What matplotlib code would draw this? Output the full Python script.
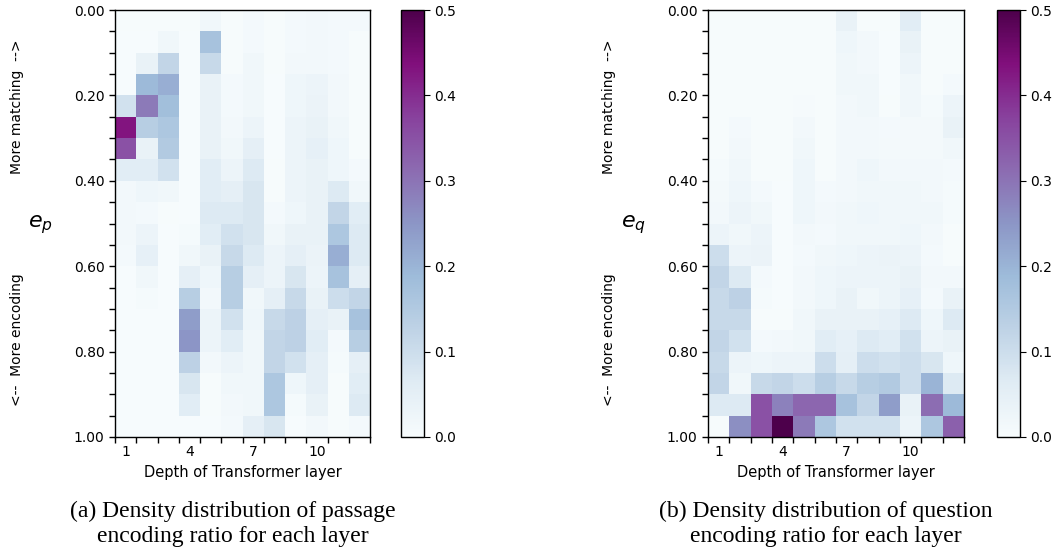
import numpy as np
import matplotlib
matplotlib.use("Agg")
import matplotlib.pyplot as plt

plt.rcParams["font.family"] = ["DejaVu Sans"]
plt.rcParams["mathtext.fontset"] = "dejavusans"

layers = list(range(1, 13))
layer_labels = [1, 4, 7, 10]
ratio_labels = ["0.00", "0.20", "0.40", "0.60", "0.80", "1.00"]

# passage encoding ratio density (rows: e_p bins 0.00-0.05 ... 0.95-1.00; cols: layers 1..12)
ep_density = [
    [0.005, 0.005, 0.005, 0.005, 0.02, 0.005, 0.01, 0.005, 0.01, 0.015, 0.01, 0.01],
    [0.003, 0.003, 0.02, 0.003, 0.17, 0.005, 0.01, 0.005, 0.01, 0.015, 0.01, 0.005],
    [0.003, 0.04, 0.12, 0.003, 0.11, 0.005, 0.02, 0.005, 0.015, 0.015, 0.01, 0.005],
    [0.003, 0.19, 0.21, 0.003, 0.04, 0.01, 0.02, 0.003, 0.025, 0.03, 0.015, 0.005],
    [0.09, 0.29, 0.18, 0.003, 0.04, 0.01, 0.02, 0.003, 0.025, 0.035, 0.015, 0.005],
    [0.43, 0.14, 0.16, 0.003, 0.04, 0.015, 0.03, 0.003, 0.03, 0.04, 0.02, 0.005],
    [0.35, 0.04, 0.15, 0.003, 0.04, 0.02, 0.05, 0.003, 0.03, 0.045, 0.025, 0.005],
    [0.06, 0.06, 0.09, 0.003, 0.06, 0.03, 0.07, 0.005, 0.03, 0.04, 0.025, 0.01],
    [0.015, 0.025, 0.02, 0.003, 0.06, 0.05, 0.08, 0.005, 0.03, 0.04, 0.07, 0.02],
    [0.015, 0.01, 0.005, 0.003, 0.07, 0.07, 0.08, 0.01, 0.025, 0.04, 0.12, 0.06],
    [0.015, 0.03, 0.003, 0.008, 0.06, 0.09, 0.08, 0.02, 0.04, 0.04, 0.16, 0.07],
    [0.01, 0.045, 0.003, 0.02, 0.04, 0.11, 0.07, 0.03, 0.05, 0.035, 0.21, 0.07],
    [0.003, 0.02, 0.003, 0.05, 0.025, 0.14, 0.05, 0.03, 0.08, 0.03, 0.17, 0.05],
    [0.003, 0.008, 0.003, 0.14, 0.015, 0.14, 0.02, 0.05, 0.11, 0.04, 0.10, 0.12],
    [0.003, 0.003, 0.003, 0.24, 0.03, 0.09, 0.025, 0.11, 0.13, 0.05, 0.04, 0.17],
    [0.003, 0.003, 0.003, 0.25, 0.03, 0.06, 0.02, 0.12, 0.13, 0.06, 0.01, 0.14],
    [0.003, 0.003, 0.003, 0.13, 0.015, 0.03, 0.02, 0.12, 0.09, 0.05, 0.008, 0.05],
    [0.003, 0.003, 0.003, 0.08, 0.005, 0.02, 0.02, 0.16, 0.025, 0.05, 0.005, 0.06],
    [0.003, 0.003, 0.003, 0.06, 0.005, 0.015, 0.02, 0.16, 0.008, 0.04, 0.005, 0.07],
    [0.003, 0.003, 0.003, 0.003, 0.003, 0.01, 0.05, 0.08, 0.003, 0.015, 0.005, 0.01],
]

# question encoding ratio density
eq_density = [
    [0.005, 0.005, 0.005, 0.005, 0.005, 0.005, 0.04, 0.005, 0.005, 0.06, 0.005, 0.005],
    [0.005, 0.005, 0.005, 0.005, 0.005, 0.005, 0.025, 0.015, 0.003, 0.04, 0.005, 0.005],
    [0.005, 0.005, 0.005, 0.005, 0.005, 0.005, 0.02, 0.015, 0.003, 0.03, 0.005, 0.005],
    [0.005, 0.005, 0.005, 0.005, 0.005, 0.005, 0.02, 0.02, 0.003, 0.02, 0.005, 0.01],
    [0.005, 0.005, 0.005, 0.005, 0.007, 0.005, 0.015, 0.02, 0.005, 0.02, 0.008, 0.03],
    [0.005, 0.01, 0.005, 0.005, 0.015, 0.005, 0.015, 0.015, 0.01, 0.012, 0.012, 0.04],
    [0.005, 0.015, 0.005, 0.005, 0.02, 0.005, 0.015, 0.015, 0.012, 0.012, 0.012, 0.02],
    [0.008, 0.02, 0.005, 0.005, 0.025, 0.005, 0.015, 0.025, 0.015, 0.015, 0.015, 0.01],
    [0.012, 0.025, 0.01, 0.003, 0.025, 0.01, 0.015, 0.02, 0.02, 0.02, 0.015, 0.008],
    [0.015, 0.03, 0.02, 0.003, 0.025, 0.015, 0.02, 0.025, 0.02, 0.02, 0.02, 0.008],
    [0.03, 0.02, 0.03, 0.003, 0.015, 0.01, 0.02, 0.02, 0.02, 0.025, 0.015, 0.005],
    [0.10, 0.03, 0.035, 0.003, 0.01, 0.02, 0.025, 0.03, 0.035, 0.03, 0.01, 0.005],
    [0.12, 0.07, 0.01, 0.003, 0.015, 0.025, 0.03, 0.03, 0.03, 0.04, 0.015, 0.015],
    [0.11, 0.13, 0.008, 0.003, 0.015, 0.025, 0.04, 0.02, 0.03, 0.045, 0.01, 0.04],
    [0.11, 0.11, 0.005, 0.005, 0.02, 0.04, 0.04, 0.04, 0.045, 0.07, 0.025, 0.07],
    [0.12, 0.09, 0.01, 0.015, 0.02, 0.06, 0.045, 0.07, 0.06, 0.09, 0.03, 0.04],
    [0.11, 0.03, 0.025, 0.03, 0.03, 0.10, 0.05, 0.10, 0.09, 0.10, 0.08, 0.025],
    [0.12, 0.02, 0.11, 0.12, 0.10, 0.14, 0.11, 0.14, 0.15, 0.10, 0.20, 0.07],
    [0.07, 0.07, 0.35, 0.28, 0.32, 0.32, 0.17, 0.12, 0.24, 0.04, 0.31, 0.19],
    [0.005, 0.26, 0.35, 0.50, 0.29, 0.16, 0.09, 0.09, 0.09, 0.03, 0.16, 0.33],
]

W, H = 1054, 551
fig = plt.figure(figsize=(W / 100, H / 100), dpi=100)

def fx(px):
    return px / W

def fy(py):
    return 1 - py / H

panels = [
    dict(data=ep_density, ax_x=(115, 370), cb_x=(401, 424), sym="$e_p$", label_x=(17, 40),
         caption="(a) Density distribution of passage\nencoding ratio for each layer", cap_x=233),
    dict(data=eq_density, ax_x=(708, 964), cb_x=(997, 1020), sym="$e_q$", label_x=(609, 633),
         caption="(b) Density distribution of question\nencoding ratio for each layer", cap_x=826),
]

top, bot = 10, 437
x_edges = np.arange(0.5, 13.5, 1.0)
y_edges = np.linspace(0, 1, 21)

for p in panels:
    x0, x1 = p["ax_x"]
    ax = fig.add_axes([fx(x0), fy(bot), fx(x1 - x0), (bot - top) / H])
    arr = np.array(p["data"])
    mesh = ax.pcolormesh(x_edges, y_edges, arr, cmap="BuPu", vmin=0, vmax=0.5)
    ax.set_xlim(0.5, 12.5)
    ax.set_ylim(1, 0)
    ax.set_yticks(y_edges)
    ax.set_yticklabels([f"{v:.2f}" if i % 4 == 0 else "" for i, v in enumerate(y_edges)])
    ax.set_xticks(x_edges)
    ax.set_xticklabels([])
    ax.set_xticks(layer_labels, minor=True)
    ax.set_xticklabels([str(v) for v in layer_labels], minor=True)
    ax.tick_params(axis="x", which="minor", length=0, pad=6, labelsize=10)
    ax.tick_params(axis="both", which="major", length=4, width=1, labelsize=10, direction="out")
    ax.set_xlabel("Depth of Transformer layer", fontsize=10.5, labelpad=4)
    for s in ax.spines.values():
        s.set_linewidth(1.0)

    c0, c1 = p["cb_x"]
    cax = fig.add_axes([fx(c0), fy(bot), fx(c1 - c0), (bot - top) / H])
    cb = fig.colorbar(mesh, cax=cax, ticks=[0.0, 0.1, 0.2, 0.3, 0.4, 0.5])
    cb.ax.tick_params(labelsize=10, length=4)
    cb.outline.set_linewidth(1.0)

    lx0, lx1 = p["label_x"]
    fig.text(fx(lx0), fy(107), "More matching  -->", rotation=90, ha="center", va="center", fontsize=10)
    fig.text(fx(lx0), fy(340), "<--  More encoding", rotation=90, ha="center", va="center", fontsize=10)
    fig.text(fx(lx1), fy(225), p["sym"], ha="center", va="center", fontsize=16)

    fig.text(fx(p["cap_x"]), fy(524), p["caption"], ha="center", va="center",
             fontsize=17, family="Liberation Serif", linespacing=1.2)

fig.savefig("out.png", dpi=100)
